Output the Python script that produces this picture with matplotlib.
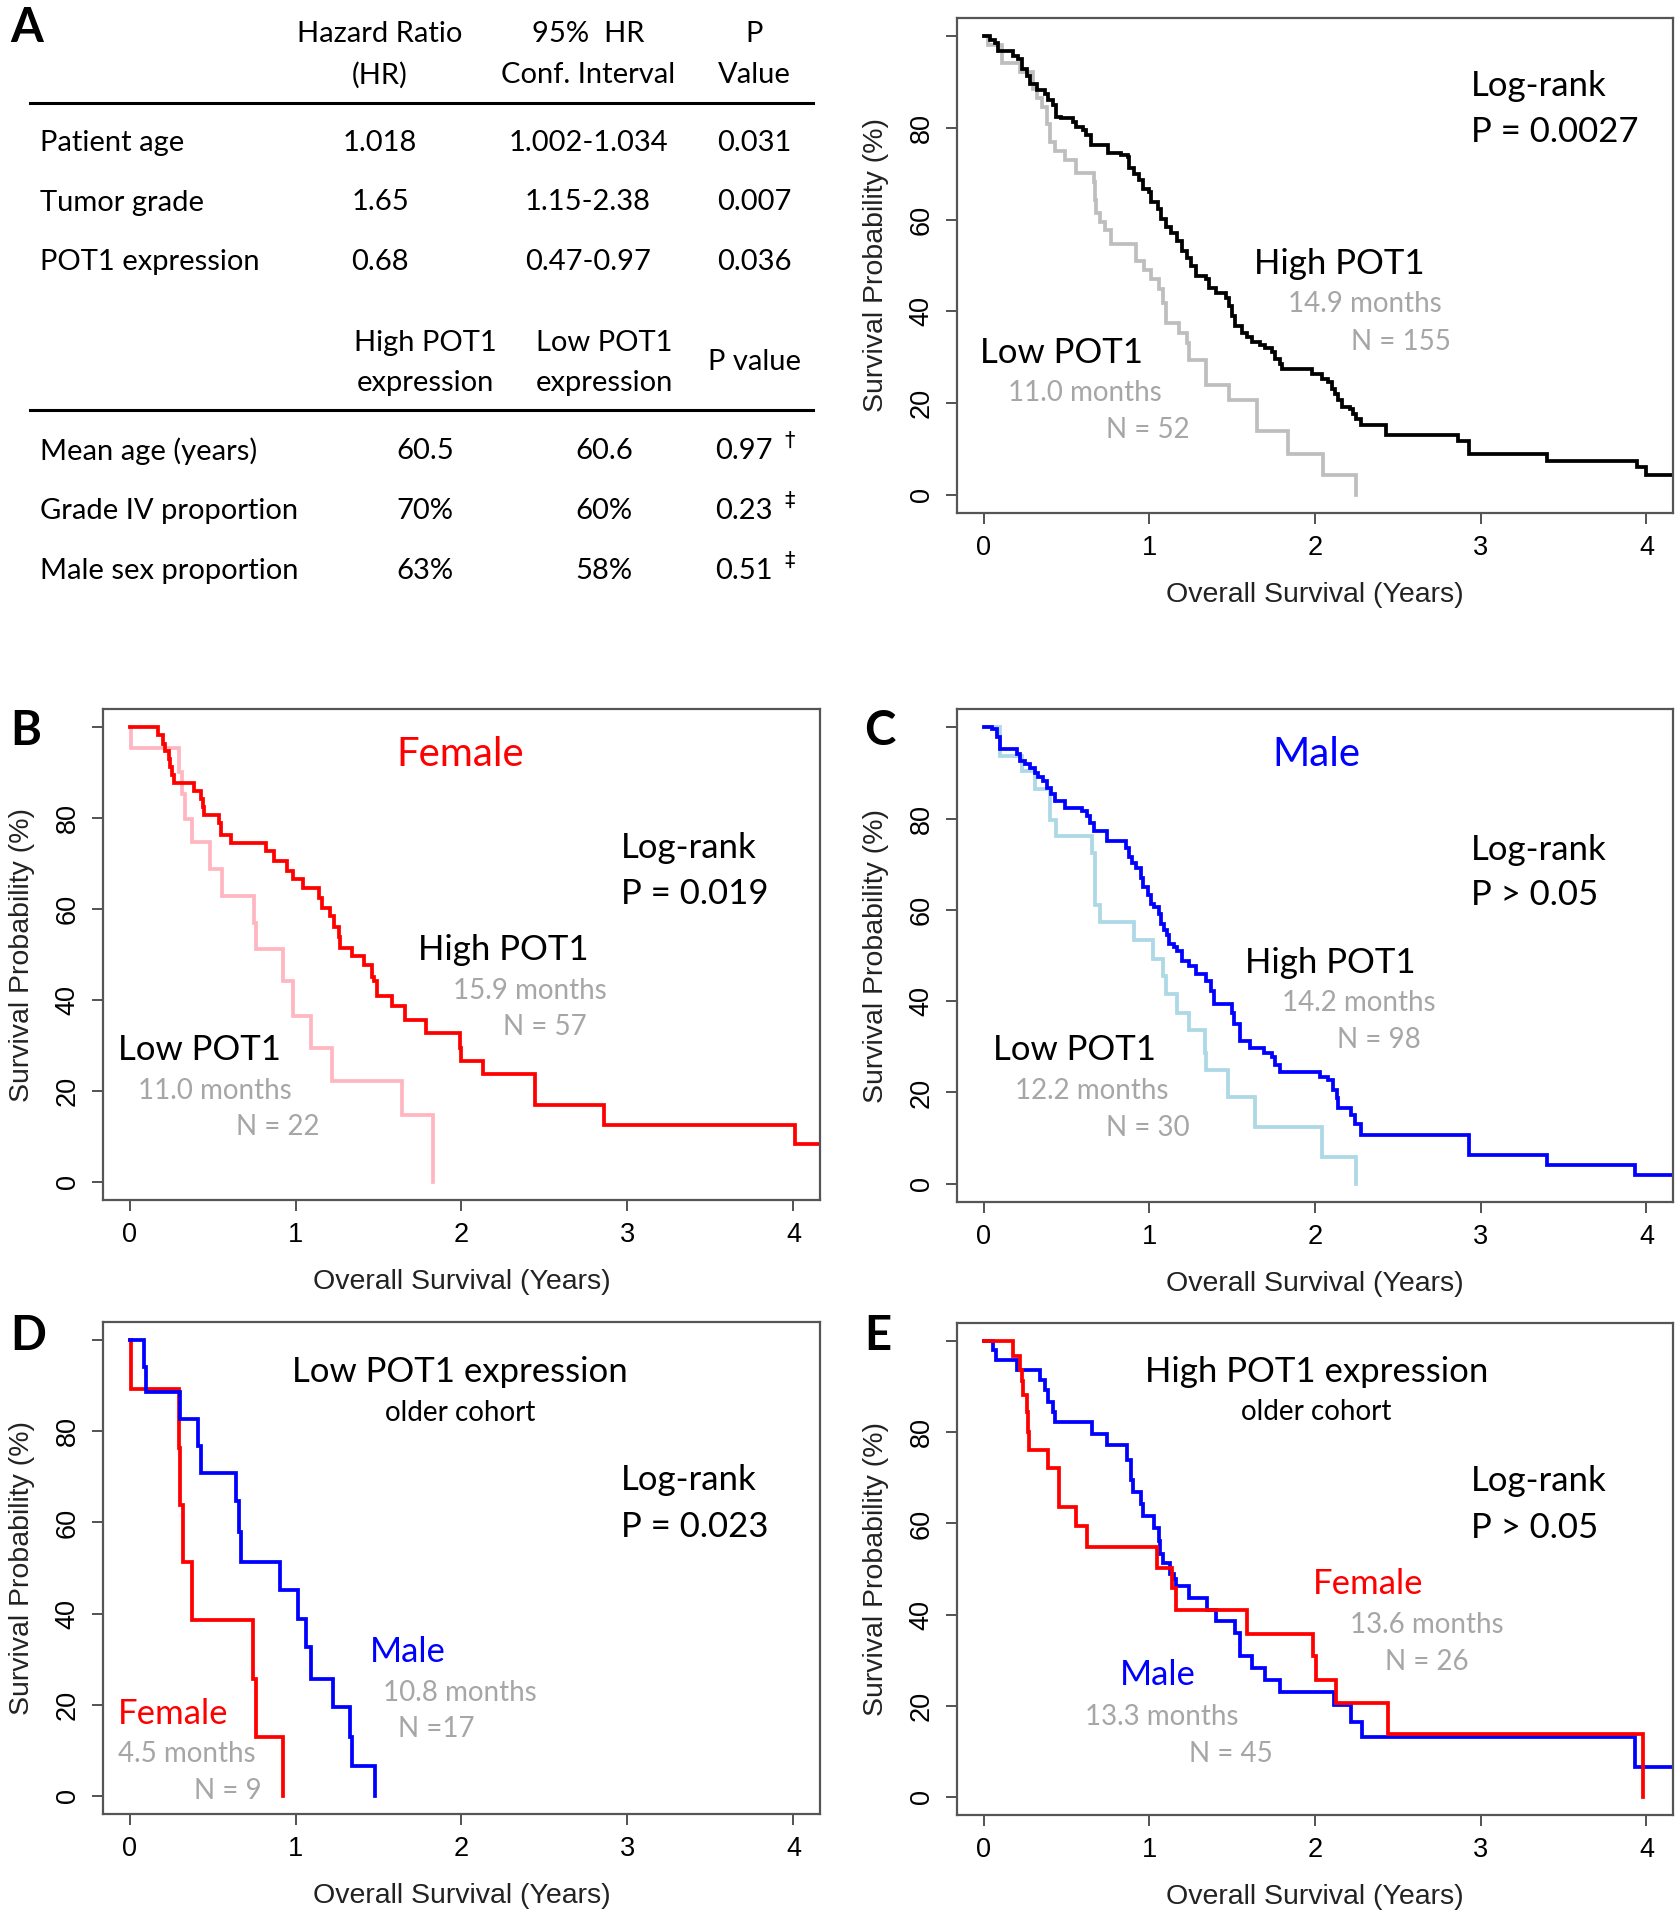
import numpy as np
import matplotlib.pyplot as plt
from matplotlib.lines import Line2D

plt.rcParams['font.family'] = ['Liberation Sans', 'DejaVu Sans']
ANNOT = ['Lato', 'DejaVu Sans']

# ---- table A data ----
cox_vars = ['Patient age', 'Tumor grade', 'POT1 expression']
cox_hr = ['1.018', '1.65', '0.68']
cox_ci = ['1.002-1.034', '1.15-2.38', '0.47-0.97']
cox_p = ['0.031', '0.007', '0.036']

demo_vars = ['Mean age (years)', 'Grade IV proportion', 'Male sex proportion']
demo_high = ['60.5', '70%', '63%']
demo_low = ['60.6', '60%', '58%']
demo_p = ['0.97', '0.23', '0.51']
demo_mark = ['\u2020', '\u2021', '\u2021']

# ---- survival curves (years, % surviving after the step) ----
all_high_t = [0, 0.04, 0.07, 0.09, 0.18, 0.21, 0.23, 0.26, 0.28, 0.32, 0.37, 0.39, 0.42, 0.44,
              0.47, 0.54, 0.56, 0.60, 0.62, 0.65, 0.75, 0.83, 0.87, 0.88, 0.91, 0.94, 0.96, 1.00,
              1.01, 1.05, 1.07, 1.10, 1.13, 1.17, 1.20, 1.23, 1.25, 1.28, 1.34, 1.36, 1.40, 1.46,
              1.48, 1.50, 1.52, 1.56, 1.59, 1.62, 1.67, 1.70, 1.74, 1.76, 1.79, 1.80, 1.98, 2.04,
              2.08, 2.10, 2.12, 2.14, 2.16, 2.21, 2.23, 2.25, 2.28, 2.43, 2.86, 2.93, 3.40, 3.94,
              4.00, 4.40]
all_high_s = [100, 99.3, 98.6, 96.8, 95.7, 95.0, 92.8, 91.3, 89.5, 88.4, 87.5, 86.2, 85.0, 82.5,
              82.1, 81.4, 80.3, 79.6, 78.5, 76.3, 74.5, 74.1, 73.7, 71.2, 70.0, 68.6, 66.8, 66.0,
              63.8, 62.3, 60.1, 58.3, 57.2, 55.4, 53.2, 51.7, 49.9, 47.7, 47.0, 45.1, 44.0, 42.9,
              41.1, 38.9, 36.7, 35.2, 34.5, 33.4, 32.7, 31.9, 31.2, 29.7, 28.6, 27.5, 26.4, 25.3,
              24.6, 23.1, 22.0, 20.6, 19.1, 18.7, 17.6, 16.5, 15.1, 13.0, 11.8, 8.8, 7.3, 6.0,
              4.3, 4.3]
all_low_t = [0, 0.03, 0.11, 0.22, 0.30, 0.32, 0.35, 0.38, 0.40, 0.43, 0.49, 0.56, 0.665, 0.67,
             0.68, 0.705, 0.73, 0.77, 0.92, 0.97, 1.01, 1.06, 1.08, 1.10, 1.18, 1.23, 1.24, 1.34,
             1.48, 1.65, 1.84, 2.05, 2.25]
all_low_s = [100, 98.1, 94.2, 92.3, 88.5, 86.5, 84.6, 80.8, 76.9, 75.0, 73.1, 70.2, 68.3, 64.4,
             61.5, 59.6, 57.7, 54.8, 51.0, 49.0, 47.1, 44.9, 41.9, 37.4, 35.2, 33.0, 29.4, 23.9,
             20.6, 14.0, 8.8, 4.4, 0]

fem_high_t = [0, 0.17, 0.20, 0.215, 0.235, 0.245, 0.255, 0.265, 0.39, 0.43, 0.445, 0.45, 0.54,
              0.55, 0.61, 0.82, 0.87, 0.95, 0.985, 1.045, 1.14, 1.16, 1.21, 1.23, 1.26, 1.27,
              1.34, 1.41, 1.46, 1.47, 1.49, 1.58, 1.66, 1.785, 1.99, 2.00, 2.13, 2.44, 2.86, 4.01,
              4.40]
fem_high_s = [100, 98.2, 96.4, 94.7, 92.9, 91.2, 89.5, 87.7, 86.0, 84.2, 82.5, 80.7, 78.9, 76.3,
              74.6, 72.8, 70.6, 68.4, 66.6, 64.7, 62.5, 60.3, 58.5, 56.1, 53.9, 51.5, 49.7, 47.8,
              45.0, 44.1, 40.8, 38.6, 35.7, 32.7, 29.4, 26.5, 23.7, 17.0, 12.6, 8.4, 8.4]
fem_low_t = [0, 0.01, 0.295, 0.315, 0.335, 0.376, 0.483, 0.559, 0.747, 0.762, 0.924, 0.985,
             1.096, 1.218, 1.644, 1.83]
fem_low_s = [100, 95.5, 90.1, 85.4, 79.8, 74.7, 68.8, 62.9, 57.0, 51.1, 44.1, 36.4, 29.4, 22.1,
             14.7, 0]

male_high_t = [0, 0.05, 0.08, 0.10, 0.20, 0.22, 0.25, 0.28, 0.31, 0.33, 0.36, 0.38, 0.41, 0.43,
               0.49, 0.595, 0.625, 0.645, 0.665, 0.746, 0.857, 0.878, 0.898, 0.918, 0.949, 0.96,
               0.99, 1.01, 1.03, 1.06, 1.07, 1.09, 1.11, 1.12, 1.15, 1.17, 1.20, 1.24, 1.28, 1.34,
               1.37, 1.39, 1.50, 1.51, 1.545, 1.605, 1.69, 1.74, 1.76, 1.79, 2.03, 2.08, 2.11,
               2.13, 2.14, 2.22, 2.24, 2.28, 2.93, 3.40, 3.93, 4.40]
male_high_s = [100, 99.6, 97.8, 95.2, 94.1, 92.6, 91.9, 91.1, 90.0, 89.0, 88.2, 86.7, 85.3, 83.8,
               82.3, 81.6, 80.5, 79.0, 77.2, 75.0, 73.5, 71.6, 70.2, 69.1, 66.9, 65.0, 63.2,
               61.3, 60.6, 59.1, 56.9, 55.5, 54.4, 52.5, 51.8, 51.0, 48.8, 47.7, 45.9, 44.4,
               42.2, 39.3, 37.4, 34.9, 31.2, 29.7, 28.6, 27.8, 26.0, 24.5, 23.4, 22.7, 20.5,
               18.7, 16.5, 15.0, 13.1, 10.6, 6.4, 4.2, 2.0, 2.0]
male_low_t = [0, 0.10, 0.23, 0.31, 0.40, 0.44, 0.655, 0.675, 0.705, 0.91, 1.02, 1.08, 1.10, 1.17,
              1.24, 1.335, 1.345, 1.475, 1.64, 2.04, 2.25]
male_low_s = [100, 93.7, 90.4, 86.4, 79.7, 76.1, 72.4, 61.0, 57.3, 53.3, 49.2, 45.5, 41.5, 37.4,
              33.7, 28.6, 24.9, 19.0, 12.4, 5.8, 0]

old_low_m_t = [0, 0.09, 0.10, 0.305, 0.41, 0.43, 0.64, 0.66, 0.67, 0.904, 1.015, 1.065, 1.096,
               1.228, 1.33, 1.34, 1.48]
old_low_m_s = [100, 94.1, 88.6, 82.7, 76.8, 70.9, 64.7, 58.0, 51.4, 45.1, 38.9, 32.7, 25.7, 19.4,
               12.8, 6.5, 0]
old_low_f_t = [0, 0.01, 0.295, 0.305, 0.325, 0.376, 0.741, 0.762, 0.924]
old_low_f_s = [100, 89.3, 76.4, 63.9, 51.4, 38.5, 25.7, 12.8, 0]

old_high_m_t = [0, 0.058, 0.078, 0.20, 0.34, 0.37, 0.39, 0.42, 0.43, 0.655, 0.746, 0.867, 0.888,
                0.89, 0.90, 0.948, 0.962, 1.03, 1.06, 1.066, 1.08, 1.127, 1.15, 1.16, 1.24, 1.35,
                1.40, 1.52, 1.55, 1.62, 1.70, 1.79, 2.115, 2.215, 2.285, 3.93, 4.40]
old_high_m_s = [100, 98.1, 95.9, 93.7, 91.5, 89.3, 86.7, 84.5, 82.3, 79.7, 77.2, 73.9, 71.7,
                69.5, 66.9, 64.3, 61.7, 59.1, 56.2, 53.3, 51.4, 48.9, 47.8, 46.3, 43.7, 41.1,
                38.5, 36.0, 30.8, 28.2, 25.6, 23.1, 20.1, 16.5, 13.1, 6.5, 6.5]
old_high_f_t = [0, 0.18, 0.22, 0.234, 0.24, 0.26, 0.27, 0.275, 0.39, 0.453, 0.558, 0.625, 1.045,
                1.14, 1.16, 1.59, 1.99, 2.005, 2.125, 2.44, 3.98]
old_high_f_s = [100, 96.7, 93.7, 91.2, 88.2, 84.5, 80.1, 76.1, 72.2, 63.7, 59.5, 54.9, 50.3,
                45.9, 40.9, 35.7, 30.8, 25.7, 20.5, 13.7, 0]

GREY_TXT = '#A6A6A6'
W, H = 1680, 1920
fig = plt.figure(figsize=(W / 100, H / 100), dpi=100)


def px(x, y):
    return x / W, 1 - y / H


def ftext(x, y, s, size=21, ha='center', **kw):
    fig.text(*px(x, y), s, fontsize=size, ha=ha, va='center', family=ANNOT, **kw)


def km_axes(l, t, r, b):
    ax = fig.add_axes([l / W, 1 - b / H, (r - l) / W, (b - t) / H])
    ax.set_xlim(-0.16, 4.16)
    ax.set_ylim(-4, 104)
    ax.set_xticks(range(5))
    ax.set_yticks(range(0, 101, 20))
    ax.set_yticklabels(['0', '20', '40', '60', '80', ''], rotation=90, va='center')
    ax.tick_params(direction='out', length=8, width=1.3, color='#444444', labelsize=19.5, pad=8)
    for s in ax.spines.values():
        s.set_color('#555555')
        s.set_linewidth(1.6)
    ax.set_xlabel('Overall Survival (Years)', fontsize=20.5, labelpad=15, color='#222222')
    ax.set_ylabel('Survival Probability (%)', fontsize=20.5, labelpad=14, color='#222222')
    return ax


def note(ax, x, y, s, size=25, color='black', ha='left'):
    ax.text(x, y, s, fontsize=size, color=color, ha=ha, va='center', family=ANNOT)


def curve(ax, t, s, color, lw=2.7):
    ax.step(t, s, where='post', color=color, lw=lw, solid_joinstyle='miter')


# ---------------- A: tables ----------------
fig.text(*px(10, 28), 'A', fontsize=34, fontweight='bold', ha='left', va='center', family=ANNOT)
col_x = [380, 588, 754]
ftext(col_x[0], 34, 'Hazard Ratio')
ftext(col_x[0], 75, '(HR)')
ftext(col_x[1], 34, '95%  HR')
ftext(col_x[1], 75, 'Conf. Interval')
ftext(col_x[2], 34, 'P')
ftext(col_x[2], 75, 'Value')
fig.add_artist(Line2D([30 / W, 813 / W], [1 - 103 / H] * 2, color='black', lw=2.2))
for i, name in enumerate(cox_vars):
    y = 143 + i * 59.5
    ftext(40, y, name, ha='left')
    ftext(col_x[0], y, cox_hr[i])
    ftext(col_x[1], y, cox_ci[i])
    ftext(col_x[2], y, cox_p[i])

col2_x = [425, 604, 754]
ftext(col2_x[0], 343, 'High POT1')
ftext(col2_x[0], 383, 'expression')
ftext(col2_x[1], 343, 'Low POT1')
ftext(col2_x[1], 383, 'expression')
ftext(col2_x[2], 362, 'P value')
fig.add_artist(Line2D([30 / W, 813 / W], [1 - 410 / H] * 2, color='black', lw=2.2))
for i, name in enumerate(demo_vars):
    y = 451 + i * 60
    ftext(40, y, name, ha='left')
    ftext(col2_x[0], y, demo_high[i])
    ftext(col2_x[1], y, demo_low[i])
    ftext(715, y, demo_p[i], ha='left')
    fig.text(*px(784, y - 10), demo_mark[i], fontsize=15, ha='left', va='center',
             family=['DejaVu Sans'])

# ---------------- A: KM all patients ----------------
ax = km_axes(957, 18, 1673, 513)
curve(ax, all_low_t, all_low_s, '#BEBEBE')
curve(ax, all_high_t, all_high_s, 'black')
note(ax, 2.94, 89.2, 'Log-rank')
note(ax, 2.94, 79.2, 'P = 0.0027')
note(ax, 1.63, 50.4, 'High POT1')
note(ax, 1.84, 41.5, '14.9 months', 20, GREY_TXT)
note(ax, 2.22, 33.4, 'N = 155', 20, GREY_TXT)
note(ax, -0.02, 31.0, 'Low POT1')
note(ax, 0.15, 22.1, '11.0 months', 20, GREY_TXT)
note(ax, 0.74, 14.0, 'N = 52', 20, GREY_TXT)

# ---------------- B: female ----------------
ax = km_axes(103, 709, 820, 1200)
curve(ax, fem_low_t, fem_low_s, '#FFB6C1')
curve(ax, fem_high_t, fem_high_s, '#FF0000')
note(ax, 1.99, 94, 'Female', 29, '#FF0000', ha='center')
note(ax, 2.96, 73.5, 'Log-rank')
note(ax, 2.96, 63.2, 'P = 0.019')
note(ax, 1.74, 51, 'High POT1')
note(ax, 1.95, 42, '15.9 months', 20, GREY_TXT)
note(ax, 2.25, 34, 'N = 57', 20, GREY_TXT)
note(ax, -0.07, 29, 'Low POT1')
note(ax, 0.05, 20, '11.0 months', 20, GREY_TXT)
note(ax, 0.64, 12, 'N = 22', 20, GREY_TXT)
fig.text(*px(10, 731), 'B', fontsize=34, fontweight='bold', ha='left', va='center', family=ANNOT)

# ---------------- C: male ----------------
ax = km_axes(957, 709, 1673, 1202)
curve(ax, male_low_t, male_low_s, '#ADD8E6')
curve(ax, male_high_t, male_high_s, '#0000FF')
note(ax, 2.01, 94, 'Male', 29, '#0000FF', ha='center')
note(ax, 2.94, 73.2, 'Log-rank')
note(ax, 2.94, 63.2, 'P > 0.05')
note(ax, 1.58, 48.4, 'High POT1')
note(ax, 1.80, 39.5, '14.2 months', 20, GREY_TXT)
note(ax, 2.13, 31.4, 'N = 98', 20, GREY_TXT)
note(ax, 0.06, 29.2, 'Low POT1')
note(ax, 0.19, 20.3, '12.2 months', 20, GREY_TXT)
note(ax, 0.74, 12.2, 'N = 30', 20, GREY_TXT)
fig.text(*px(864, 731), 'C', fontsize=34, fontweight='bold', ha='left', va='center', family=ANNOT)

# ---------------- D: low POT1, older ----------------
ax = km_axes(103, 1322, 820, 1814)
curve(ax, old_low_f_t, old_low_f_s, '#FF0000')
curve(ax, old_low_m_t, old_low_m_s, '#0000FF')
note(ax, 1.99, 93, 'Low POT1 expression', 25, ha='center')
note(ax, 1.99, 84, 'older cohort', 20, ha='center')
note(ax, 2.96, 69.3, 'Log-rank')
note(ax, 2.96, 59, 'P = 0.023')
note(ax, 1.45, 31.5, 'Male', 25, '#0000FF')
note(ax, 1.53, 22.6, '10.8 months', 20, GREY_TXT)
note(ax, 1.62, 14.6, 'N =17', 20, GREY_TXT)
note(ax, -0.07, 18, 'Female', 25, '#FF0000')
note(ax, -0.07, 9.2, '4.5 months', 20, GREY_TXT)
note(ax, 0.39, 1.1, 'N = 9', 20, GREY_TXT)
fig.text(*px(10, 1336), 'D', fontsize=34, fontweight='bold', ha='left', va='center', family=ANNOT)

# ---------------- E: high POT1, older ----------------
ax = km_axes(957, 1323, 1673, 1815)
curve(ax, old_high_m_t, old_high_m_s, '#0000FF')
curve(ax, old_high_f_t, old_high_f_s, '#FF0000')
note(ax, 2.01, 93.3, 'High POT1 expression', 25, ha='center')
note(ax, 2.01, 84.4, 'older cohort', 20, ha='center')
note(ax, 2.94, 69.3, 'Log-rank')
note(ax, 2.94, 59, 'P > 0.05')
note(ax, 1.99, 46.6, 'Female', 25, '#FF0000')
note(ax, 2.21, 37.7, '13.6 months', 20, GREY_TXT)
note(ax, 2.42, 29.6, 'N = 26', 20, GREY_TXT)
note(ax, 0.82, 26.7, 'Male', 25, '#0000FF')
note(ax, 0.61, 17.5, '13.3 months', 20, GREY_TXT)
note(ax, 1.24, 9.4, 'N = 45', 20, GREY_TXT)
fig.text(*px(864, 1336), 'E', fontsize=34, fontweight='bold', ha='left', va='center', family=ANNOT)

fig.savefig('out.png', dpi=100)
